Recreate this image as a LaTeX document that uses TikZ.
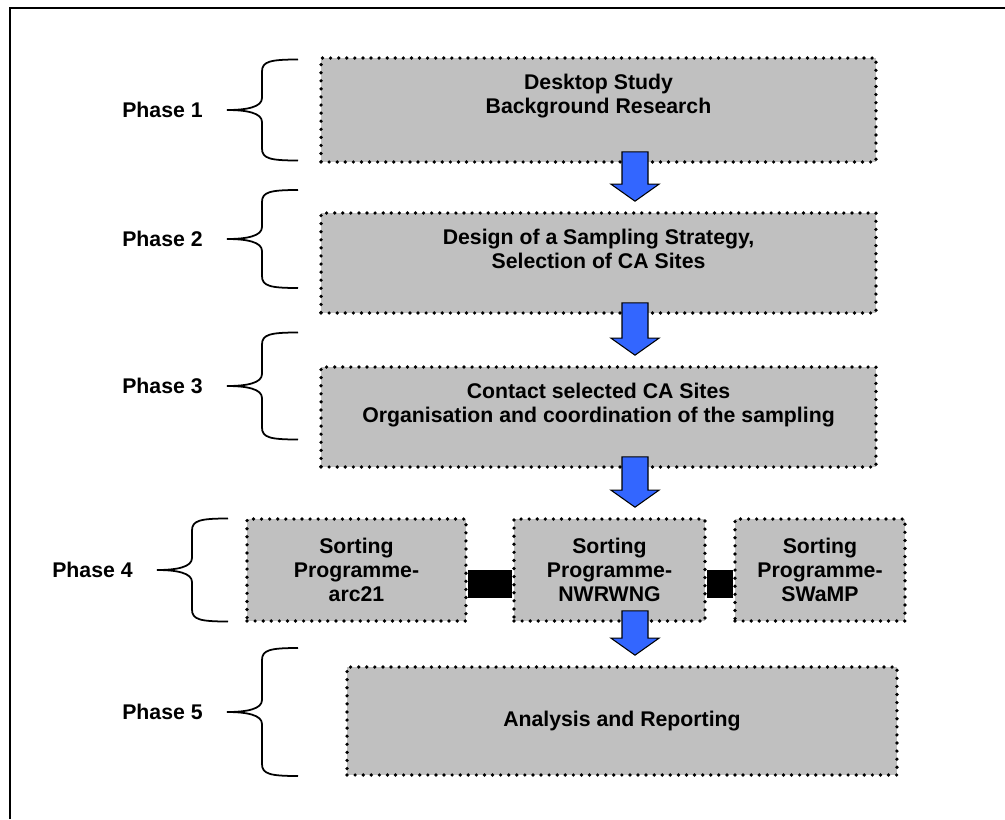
\documentclass[tikz,border=0pt]{standalone}
\usepackage{fontspec}
\setmainfont{Liberation Sans}
\usepackage{tikz}
\usetikzlibrary{calc}

\definecolor{boxgray}{HTML}{C0C0C0}
\definecolor{arrowblue}{HTML}{3366FF}

% text inside the boxes
\newcommand{\toptext}[3]{\parbox[c][#2][t]{#1}{\centering\vspace*{0.33cm}#3}}
\newcommand{\midtext}[3]{\parbox[c][#2][c]{#1}{\centering #3}}

% blue arrow from one box down to the next
\newcommand{\phasearrow}[2]{%
  \draw[flowarrow] ($(ax |- #1.south)+(-13,-12)$) -- ($(ax |- #2.north)+(-13,-27)$)
    -- ++(-11,0) -- ($(ax |- #2.north)+(0,-10)$) -- ($(ax |- #2.north)+(24,-27)$)
    -- ++(-11,0) -- ($(ax |- #1.south)+(13,-12)$) -- cycle;}

% curly bracket right of a phase label
\newcommand{\phasebrace}[2]{%
  \draw[bracket] ($(#1.east)+(24,0)$) .. controls +(20,0) and +(0,9) .. ++(35,-12)
    -- ++(0,24-#2) .. controls +(0,-10) and +(-28,0) .. ++(36,-12);
  \draw[bracket] ($(#1.east)+(24,0)$) .. controls +(20,0) and +(0,-9) .. ++(35,12)
    -- ++(0,#2-24) .. controls +(0,10) and +(-28,0) .. ++(36,12);}

\tikzset{
  phasebox/.style={draw, fill=boxgray, line width=2.1pt, dash pattern=on 0pt off 4.6pt,
    line cap=round, inner sep=0pt},
  phaselabel/.style={anchor=east, inner sep=0pt},
  flowarrow/.style={fill=arrowblue, draw=black, line width=0.6pt, line join=miter},
  bracket/.style={line width=1pt},
}

\begin{document}
\begin{tikzpicture}[x=0.02cm, y=-0.02cm, font=\fontsize{12.1}{13.7}\selectfont\bfseries]
  \useasboundingbox (0,0) rectangle (1005,819);
  \draw[line width=1.2pt] (10,819) |- (1005,8);
  \coordinate (ax) at (635,0);

  % boxes
  \node[phasebox] (desk) at (598.5,110) {\toptext{11.1cm}{2.08cm}{Desktop Study\\Background Research}};
  \node[phasebox] (design) at (598.5,263) {\toptext{11.1cm}{2cm}{Design of a Sampling Strategy,\\Selection of CA Sites}};
  \node[phasebox] (contact) at (598.5,417) {\toptext{11.1cm}{2cm}{Contact selected CA Sites\\Organisation and coordination of the sampling}};
  \node[phasebox] (arc) at (356.5,570) {\midtext{4.38cm}{2.04cm}{Sorting\\Programme-\\arc21}};
  \node[phasebox] (nwr) at (609.5,570) {\midtext{3.82cm}{2.04cm}{Sorting\\Programme-\\NWRWNG}};
  \node[phasebox] (swamp) at (820,570) {\midtext{3.4cm}{2.04cm}{Sorting\\Programme-\\SWaMP}};
  \node[phasebox] (report) at (622,721) {\midtext{11cm}{2.16cm}{Analysis and Reporting}};

  % black links between the sorting boxes
  \fill (arc.east) rectangle ($(nwr.west)+(0,28)$);
  \fill (nwr.east) rectangle ($(swamp.west)+(0,28)$);

  % arrows
  \phasearrow{desk}{design}
  \phasearrow{design}{contact}
  \phasearrow{contact}{nwr}
  \phasearrow{nwr}{report}

  % phases
  \node[phaselabel] (p1) at (203,110) {Phase 1};
  \node[phaselabel] (p2) at (203,239) {Phase 2};
  \node[phaselabel] (p3) at (203,386) {Phase 3};
  \node[phaselabel] (p4) at (133,570) {Phase 4};
  \node[phaselabel] (p5) at (203,712) {Phase 5};
  \phasebrace{p1}{50.5}
  \phasebrace{p2}{49}
  \phasebrace{p3}{53.5}
  \phasebrace{p4}{51.5}
  \phasebrace{p5}{64}
\end{tikzpicture}
\end{document}
